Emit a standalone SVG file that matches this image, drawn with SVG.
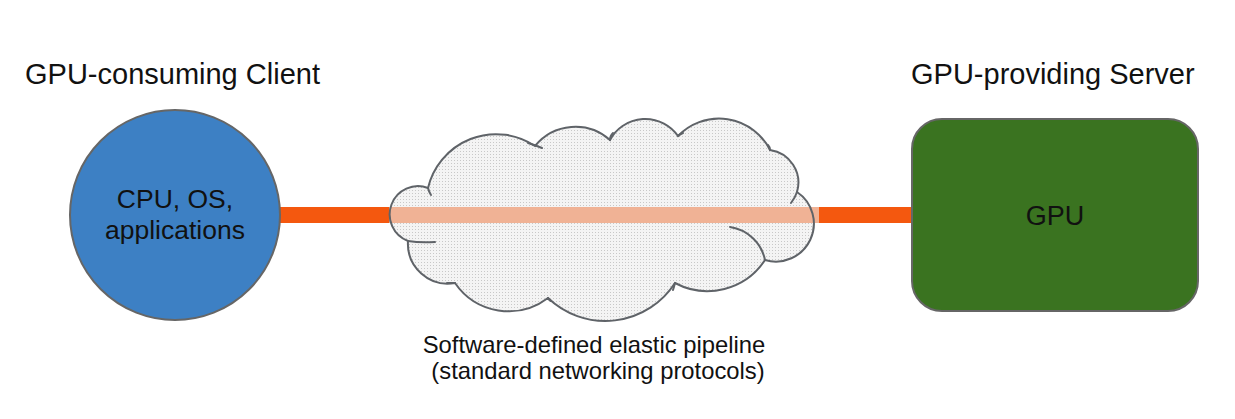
<svg xmlns="http://www.w3.org/2000/svg" width="1235" height="419" viewBox="0 0 1235 419">
  <style>
    text { font-family: "Liberation Sans", Arial, sans-serif; fill: #111111; }
    .title { font-size: 29px; }
    .inner { font-size: 26.5px; text-anchor: middle; }
    .caption { font-size: 23.8px; text-anchor: middle; }
    .cloud-line { fill: none; stroke: #5f6368; stroke-width: 2; stroke-linecap: round; }
  </style>
  <defs>
    <pattern id="dots" width="3" height="3" patternUnits="userSpaceOnUse">
      <rect width="3" height="3" fill="#f4f4f4"/>
      <rect x="1" y="1" width="1" height="1" fill="#c8c8c8"/>
    </pattern>
    <path id="cloudPath" d="M428,188 A70,70 0 0 1 535,146 A52,52 0 0 1 610,140 A40,40 0 0 1 678,136 A57,57 0 0 1 770,150 A33,33 0 0 1 797,192 A38,38 0 0 1 765,260 A69,69 0 0 1 675,283 A83,83 0 0 1 548,298 A65,65 0 0 1 455,283 A40,40 0 0 1 408,241 A28,28 0 1 1 428,188 Z"/>
  </defs>
  <rect width="1235" height="419" fill="#ffffff"/>

  <g id="connectors">
    <rect x="278" y="207" width="636" height="16" fill="#f4580f"/>
  </g>

  <g id="cloud">
    <use href="#cloudPath" fill="url(#dots)"/>
    <rect x="389" y="207" width="430" height="16" fill="#f0b295"/>
    <use href="#cloudPath" class="cloud-line"/>
    <path class="cloud-line" d="M408,241 Q420,243 435,242"/>
    <path class="cloud-line" d="M428,188 Q429,192 431,195"/>
    <path class="cloud-line" d="M528,143 Q535,145 542,148"/>
    <path class="cloud-line" d="M610,140 Q610,136 613,133"/>
    <path class="cloud-line" d="M678,136 Q680,134 683,133"/>
    <path class="cloud-line" d="M770,150 Q770,147 768,145"/>
    <path class="cloud-line" d="M797,192 Q795,198 791,203"/>
    <path class="cloud-line" d="M730,227 A42,42 0 0 1 765,260"/>
    <path class="cloud-line" d="M675,283 Q674,287 673,290"/>
    <path class="cloud-line" d="M548,298 Q549,300 551,301"/>
    <path class="cloud-line" d="M455,283 Q451,283 447,283"/>
    <text class="caption" x="594" y="353">Software-defined elastic pipeline</text>
    <text class="caption" x="598" y="379">(standard networking protocols)</text>
  </g>

  <g id="client">
    <text class="title" x="25" y="84">GPU-consuming Client</text>
    <circle cx="175" cy="215" r="105" fill="#3d80c4" stroke="#666666" stroke-width="2"/>
    <text class="inner" x="175" y="208">CPU, OS,</text>
    <text class="inner" x="175" y="239">applications</text>
  </g>

  <g id="server">
    <text class="title" x="911" y="84">GPU-providing Server</text>
    <rect x="912" y="119" width="286" height="192" rx="30" ry="30" fill="#3a7320" stroke="#666666" stroke-width="2"/>
    <text class="inner" x="1055" y="225" style="font-size:27px">GPU</text>
  </g>
</svg>
